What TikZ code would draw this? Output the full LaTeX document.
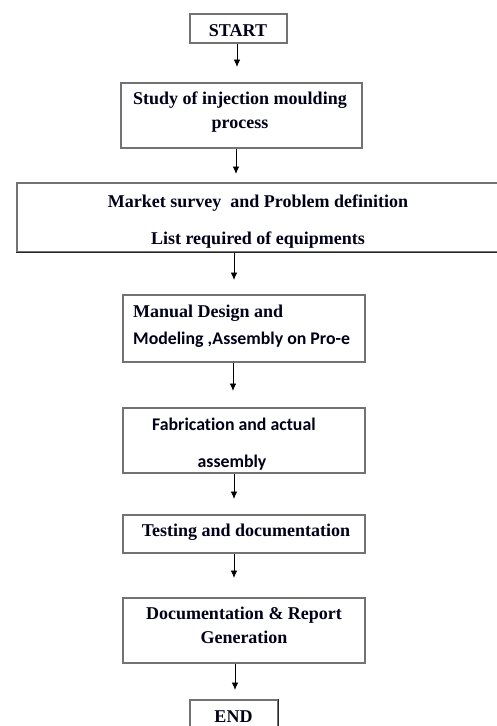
\documentclass[tikz,border=0pt]{standalone}
\usepackage{fontspec}
\setmainfont{Liberation Serif}
\newfontfamily\carl[Ligatures=NoCommon]{Carlito}
\usetikzlibrary{arrows.meta}
\tikzset{
  box/.style={draw=black!55, line width=1.1pt, rectangle, inner sep=0pt, fill=none},
  darkedge/.style={draw=black!85, line width=1.4pt},
  txt/.style={anchor=base, inner sep=0pt, font=\fontsize{18}{20}\selectfont\bfseries, text=black!90!blue},
  ctxt/.style={anchor=base, inner sep=0pt, font=\fontsize{17.8}{20}\selectfont\carl\bfseries, text=black!90!blue},
  arr/.style={draw=black, line width=0.9pt, -{Latex[length=7.5pt,width=6.5pt]}}
}
\begin{document}
\begin{tikzpicture}[x=1pt,y=-1pt]
\useasboundingbox (0,0) rectangle (496,726);
% boxes
\node[box, minimum width=97pt, minimum height=29pt] (start) at (238.5,28.5) {};
\node[box, minimum width=241pt, minimum height=65pt] (study) at (241.5,115.5) {};
\node[box, minimum width=483pt, minimum height=69pt] (market) at (258.5,217.5) {};
\node[box, minimum width=242pt, minimum height=67pt] (manual) at (244,328.5) {};
\node[box, minimum width=242pt, minimum height=65pt] (fab) at (244,440.5) {};
\node[box, minimum width=242pt, minimum height=38pt] (test) at (244,534) {};
\node[box, minimum width=242pt, minimum height=65pt] (doc) at (244,630.5) {};
\node[box, minimum width=88pt, minimum height=30pt] (end) at (234,715) {};
\draw[darkedge] (market.south west) -- (market.south east);
\draw[darkedge] (end.north east) -- (end.south east);
% texts
\node[txt] (tstart) at (238,36) {START};
\node[txt] (tstudy1) at (240,104) {Study of injection moulding};
\node[txt] (tstudy2) at (240,128) {process};
\node[txt] (tmarket1) at (258,207) {Market survey\ \ and Problem definition};
\node[txt] (tmarket2) at (258,244) {List required of equipments};
\node[txt, anchor=base west] (tmanual1) at (133,317) {Manual Design and};
\node[ctxt, anchor=base west] (tmanual2) at (133,344) {Modeling ,Assembly on Pro-e};
\node[ctxt, anchor=base west] (tfab1) at (152,430) {Fabrication and actual};
\node[ctxt] (tfab2) at (232,467) {assembly};
\node[txt] (ttest) at (246,536) {Testing and documentation};
\node[txt] (tdoc1) at (244,619) {Documentation \& Report};
\node[txt] (tdoc2) at (244,643) {Generation};
\node[txt] (tend) at (233.5,722) {END};
% arrow tips
\coordinate (p1) at (237,67);
\coordinate (p2) at (236,174);
\coordinate (p3) at (234,280);
\coordinate (p4) at (233,391);
\coordinate (p5) at (234,499);
\coordinate (p6) at (234,578);
\coordinate (p7) at (235,690);
\draw[arr] (start.south -| p1) -- (p1);
\draw[arr] (study.south -| p2) -- (p2);
\draw[arr] (market.south -| p3) -- (p3);
\draw[arr] (manual.south -| p4) -- (p4);
\draw[arr] (fab.south -| p5) -- (p5);
\draw[arr] (test.south -| p6) -- (p6);
\draw[arr] (doc.south -| p7) -- (p7);
\end{tikzpicture}
\end{document}
